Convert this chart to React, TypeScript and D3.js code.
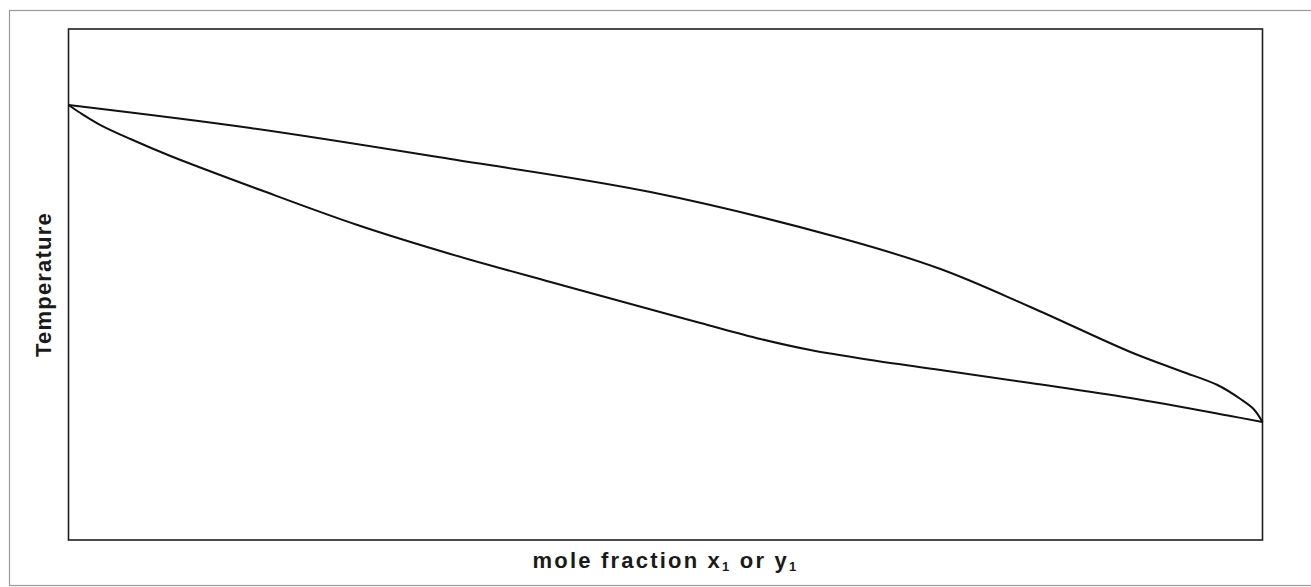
import React from "react";
import * as d3 from "d3";

// Composition (mole fraction of component 1) and temperature, in arbitrary units.
// Dew-point curve (vapour, y1)
const dewX = [0, 0.1524, 0.3199, 0.4874, 0.6466, 0.7303, 0.8057, 0.8894, 0.9313, 0.9623, 0.9816, 0.9925, 1];
const dewT = [85.13, 80.63, 74.56, 68.1, 59.1, 53.03, 45.6, 36.79, 33.07, 30.33, 27.59, 25.64, 23.09];

// Bubble-point curve (liquid, x1)
const bubbleX = [0, 0.01005, 0.0268, 0.0519, 0.0854, 0.1608, 0.242, 0.3199, 0.4037, 0.4832, 0.5293, 0.5796, 0.6214, 0.6717, 0.7303, 0.8057, 0.8894, 0.9732, 1];
const bubbleT = [85.13, 83.56, 81.21, 78.47, 75.15, 68.49, 61.64, 55.97, 50.49, 45.4, 42.47, 39.33, 37.18, 35.23, 33.27, 30.72, 27.79, 24.27, 23.09];

const xLabelParts = ["mole fraction x", "1", " or y", "1"];
const yLabel = "Temperature";

const W = 1311;
const H = 587;
const plot = { left: 68.5, top: 29, right: 1262.5, bottom: 540 };

export default function App() {
  const x = d3.scaleLinear().domain([0, 1]).range([plot.left, plot.right]);
  const y = d3.scaleLinear().domain([0, 100]).range([plot.bottom, plot.top]);

  const line = d3
    .line<[number, number]>()
    .x((d) => x(d[0]))
    .y((d) => y(d[1]))
    .curve(d3.curveCatmullRom.alpha(0.5));

  const dew = line(dewX.map((v, i) => [v, dewT[i]] as [number, number])) || "";
  const bubble = line(bubbleX.map((v, i) => [v, bubbleT[i]] as [number, number])) || "";

  const font = "'Liberation Sans', Arial, Helvetica, sans-serif";
  const cx = (plot.left + plot.right) / 2;
  const cy = (plot.top + plot.bottom) / 2;

  return (
    <svg
      width={W}
      height={H}
      style={{ position: "absolute", left: 0, top: 0, background: "#fff" }}
    >
      {/* outer frame */}
      <rect x={9.5} y={10.5} width={W} height={575} fill="none" stroke="#9a9a9a" strokeWidth={1.2} />

      {/* plot box */}
      <rect
        x={plot.left}
        y={plot.top}
        width={plot.right - plot.left}
        height={plot.bottom - plot.top}
        fill="none"
        stroke="#1e1e1e"
        strokeWidth={1.6}
      />

      <path d={dew} fill="none" stroke="#111" strokeWidth={2} />
      <path d={bubble} fill="none" stroke="#111" strokeWidth={2} />

      <text
        x={cx}
        y={568}
        textAnchor="middle"
        fontFamily={font}
        fontWeight="bold"
        fontSize={22}
        letterSpacing={2.2}
        fill="#1a1a1a"
      >
        {xLabelParts[0]}
        <tspan fontSize={13} dy={3}>{xLabelParts[1]}</tspan>
        <tspan dy={-3}>{xLabelParts[2]}</tspan>
        <tspan fontSize={13} dy={3}>{xLabelParts[3]}</tspan>
      </text>

      <text
        transform={`translate(51,${cy}) rotate(-90)`}
        textAnchor="middle"
        fontFamily={font}
        fontWeight="bold"
        fontSize={22}
        letterSpacing={1.2}
        fill="#1a1a1a"
      >
        {yLabel}
      </text>
    </svg>
  );
}
